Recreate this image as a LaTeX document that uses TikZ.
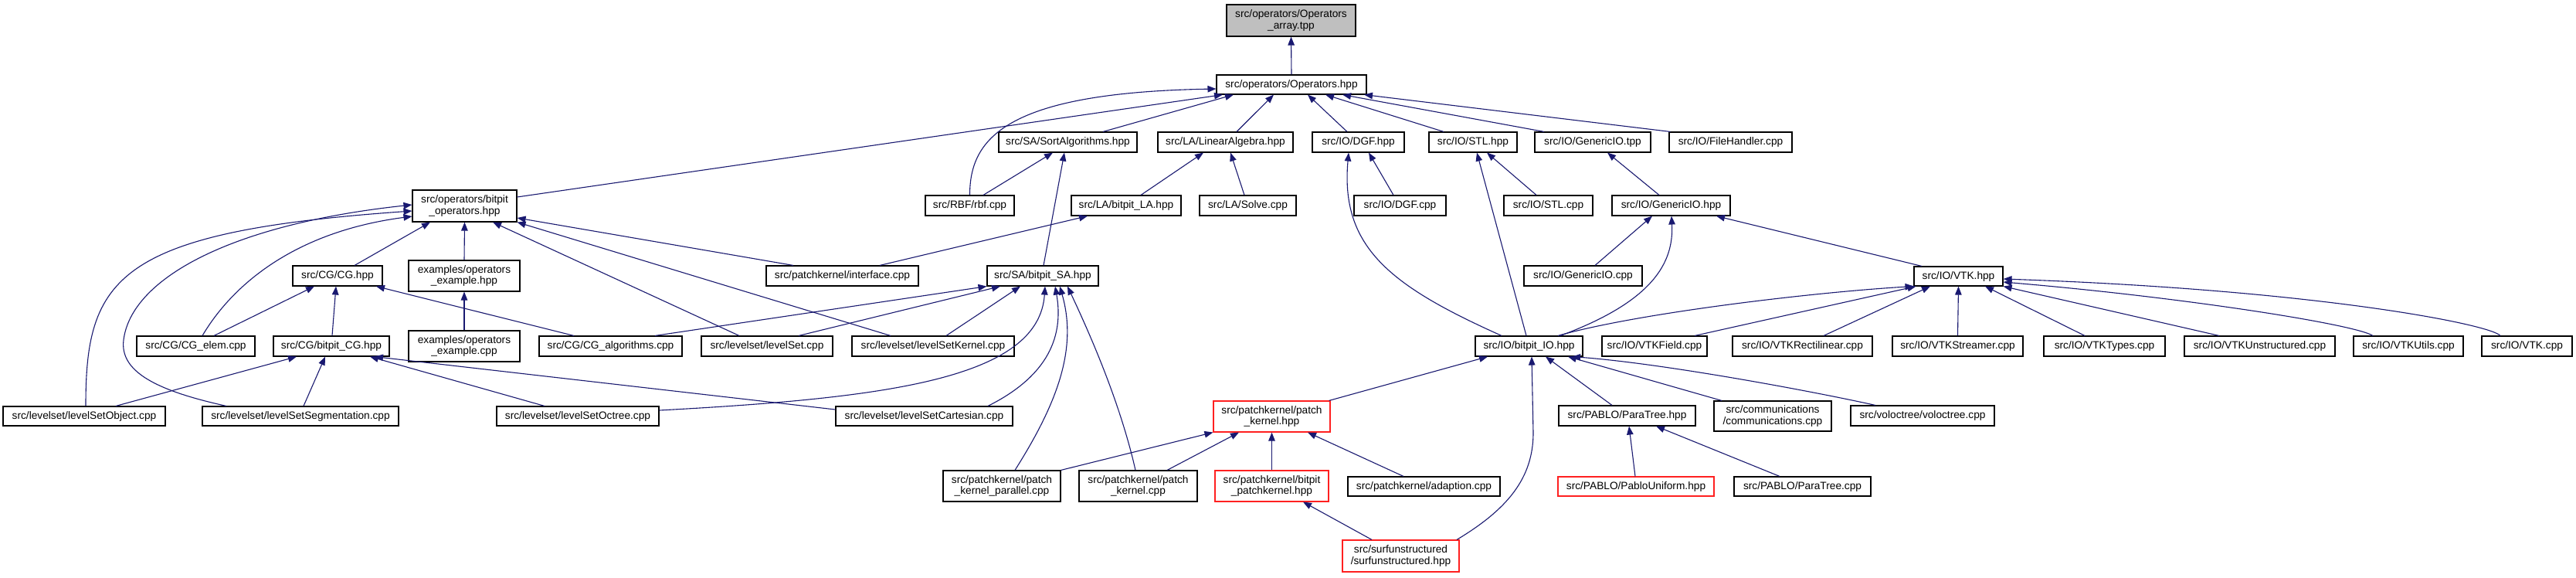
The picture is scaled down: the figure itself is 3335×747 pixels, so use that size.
\documentclass[tikz,border=0pt]{standalone}
\usepackage{fontspec}
\setmainfont{Liberation Sans}
\usetikzlibrary{arrows.meta,shadows}
\definecolor{edgeblue}{HTML}{191970}
\definecolor{nodegray}{HTML}{BFBFBF}
\definecolor{redline}{HTML}{FF2020}
\begin{document}
\begin{tikzpicture}[x=1pt,y=-1pt,
  box/.style={draw=black, line width=1.1pt, fill=white, inner sep=0pt, align=center,
    font=\fontsize{13.7}{14.6}\selectfont,
    drop shadow={shadow xshift=1.3pt,shadow yshift=-1.3pt,fill=black!55,opacity=1}},
  redbox/.style={draw=redline, line width=1.1pt, fill=white, inner sep=0pt, align=center,
    font=\fontsize{13.7}{14.6}\selectfont},
  edge/.style={draw=edgeblue, line width=1.1pt, -{Triangle[length=11pt,width=8.5pt]}},
]
\fill[white] (0,0) rectangle (3335,747);
\useasboundingbox (0,0) rectangle (3335,747);

% row 0-1
\node[box, fill=nodegray, minimum width=167pt, minimum height=41pt] (arr) at (1671.5,26.5) {src/operators/Operators\\\_array.tpp};
\node[box, minimum width=194pt, minimum height=25pt] (ops) at (1672,109.5) {src/operators/Operators.hpp};
% row 2
\node[box, minimum width=179pt, minimum height=26pt] (sort) at (1382.5,184) {src/SA/SortAlgorithms.hpp};
\node[box, minimum width=175pt, minimum height=26pt] (linalg) at (1586.5,184) {src/LA/LinearAlgebra.hpp};
\node[box, minimum width=119pt, minimum height=26pt] (dgfh) at (1758.5,184) {src/IO/DGF.hpp};
\node[box, minimum width=114pt, minimum height=26pt] (stlh) at (1907,184) {src/IO/STL.hpp};
\node[box, minimum width=150pt, minimum height=26pt] (gentpp) at (2062,184) {src/IO/GenericIO.tpp};
\node[box, minimum width=159pt, minimum height=26pt] (fileh) at (2240.5,184) {src/IO/FileHandler.cpp};
% row 3
\node[box, minimum width=135pt, minimum height=41pt] (bops) at (601.5,266.5) {src/operators/bitpit\\\_operators.hpp};
\node[box, minimum width=115pt, minimum height=26pt] (rbf) at (1255.5,266) {src/RBF/rbf.cpp};
\node[box, minimum width=142pt, minimum height=26pt] (bla) at (1458,266) {src/LA/bitpit\_LA.hpp};
\node[box, minimum width=125pt, minimum height=26pt] (solve) at (1615.5,266) {src/LA/Solve.cpp};
\node[box, minimum width=119pt, minimum height=26pt] (dgfc) at (1812.5,266) {src/IO/DGF.cpp};
\node[box, minimum width=115pt, minimum height=26pt] (stlc) at (2004.5,266) {src/IO/STL.cpp};
\node[box, minimum width=153pt, minimum height=26pt] (genhpp) at (2163.5,266) {src/IO/GenericIO.hpp};
% row 4
\node[box, minimum width=116pt, minimum height=26pt] (cgh) at (437,357) {src/CG/CG.hpp};
\node[box, minimum width=144pt, minimum height=40pt] (opex) at (601,357) {examples/operators\\\_example.hpp};
\node[box, minimum width=197pt, minimum height=26pt] (iface) at (1090.5,357) {src/patchkernel/interface.cpp};
\node[box, minimum width=144pt, minimum height=26pt] (bsa) at (1350,357) {src/SA/bitpit\_SA.hpp};
\node[box, minimum width=153pt, minimum height=26pt] (gencpp) at (2049.5,357) {src/IO/GenericIO.cpp};
\node[box, minimum width=115pt, minimum height=25pt] (vtkh) at (2535.5,357.5) {src/IO/VTK.hpp};
% row 5
\node[box, minimum width=153pt, minimum height=26pt] (cgelem) at (253.5,448) {src/CG/CG\_elem.cpp};
\node[box, minimum width=150pt, minimum height=26pt] (bcg) at (429,448) {src/CG/bitpit\_CG.hpp};
\node[box, minimum width=144pt, minimum height=40pt] (opexc) at (601,448) {examples/operators\\\_example.cpp};
\node[box, minimum width=185pt, minimum height=26pt] (cgalg) at (790.5,448) {src/CG/CG\_algorithms.cpp};
\node[box, minimum width=170pt, minimum height=26pt] (lset) at (993,448) {src/levelset/levelSet.cpp};
\node[box, minimum width=210pt, minimum height=26pt] (lskern) at (1208,448) {src/levelset/levelSetKernel.cpp};
\node[box, minimum width=139pt, minimum height=26pt] (bio) at (1979.5,448) {src/IO/bitpit\_IO.hpp};
\node[box, minimum width=136pt, minimum height=26pt] (vtkfield) at (2142,448) {src/IO/VTKField.cpp};
\node[box, minimum width=181pt, minimum height=26pt] (vtkrect) at (2333.5,448) {src/IO/VTKRectilinear.cpp};
\node[box, minimum width=169pt, minimum height=26pt] (vtkstream) at (2534.5,448) {src/IO/VTKStreamer.cpp};
\node[box, minimum width=157pt, minimum height=26pt] (vtktypes) at (2724.5,448) {src/IO/VTKTypes.cpp};
\node[box, minimum width=195pt, minimum height=26pt] (vtkunst) at (2925.5,448) {src/IO/VTKUnstructured.cpp};
\node[box, minimum width=142pt, minimum height=26pt] (vtkutils) at (3118,448) {src/IO/VTKUtils.cpp};
\node[box, minimum width=117pt, minimum height=26pt] (vtkcpp) at (3271.5,448) {src/IO/VTK.cpp};
% row 6
\node[box, minimum width=210pt, minimum height=25pt] (lsobj) at (109,538.5) {src/levelset/levelSetObject.cpp};
\node[box, minimum width=254pt, minimum height=25pt] (lsseg) at (389,538.5) {src/levelset/levelSetSegmentation.cpp};
\node[box, minimum width=210pt, minimum height=25pt] (lsoct) at (748,538.5) {src/levelset/levelSetOctree.cpp};
\node[box, minimum width=229pt, minimum height=25pt] (lscart) at (1196.5,538.5) {src/levelset/levelSetCartesian.cpp};
\node[redbox, minimum width=151pt, minimum height=40pt] (pkh) at (1646.5,539) {src/patchkernel/patch\\\_kernel.hpp};
\node[box, minimum width=177pt, minimum height=26pt] (paratreeh) at (2106.5,538) {src/PABLO/ParaTree.hpp};
\node[box, minimum width=152pt, minimum height=39pt] (comm) at (2295,538.5) {src/communications\\/communications.cpp};
\node[box, minimum width=186pt, minimum height=26pt] (voloc) at (2489,538) {src/voloctree/voloctree.cpp};
% row 7
\node[box, minimum width=152pt, minimum height=40pt] (pkpar) at (1297,629) {src/patchkernel/patch\\\_kernel\_parallel.cpp};
\node[box, minimum width=153pt, minimum height=40pt] (pkcpp) at (1473.5,629) {src/patchkernel/patch\\\_kernel.cpp};
\node[redbox, minimum width=147pt, minimum height=40pt] (bpk) at (1646.5,629) {src/patchkernel/bitpit\\\_patchkernel.hpp};
\node[box, minimum width=197pt, minimum height=25pt] (adapt) at (1843.5,629.5) {src/patchkernel/adaption.cpp};
\node[redbox, minimum width=202pt, minimum height=25pt] (pablou) at (2118,629.5) {src/PABLO/PabloUniform.hpp};
\node[box, minimum width=177pt, minimum height=25pt] (paratreec) at (2333.5,629.5) {src/PABLO/ParaTree.cpp};
% row 8
\node[redbox, minimum width=151pt, minimum height=41pt] (surf) at (1813.5,719.5) {src/surfunstructured\\/surfunstructured.hpp};

% edges
\draw[edge] (ops.north) -- (arr.south);
\draw[edge] ([yshift=11.5]bops.east) -- ([xshift=-89]ops.south);
\draw[edge] (rbf.north) .. controls (1255.5,180) and (1300,120) .. ([yshift=-5.5]ops.west);
\draw[edge] ([xshift=45.5]sort.north) -- ([xshift=-75]ops.south);
\draw[edge] ([xshift=14.5]linalg.north) -- ([xshift=-23]ops.south);
\draw[edge] ([xshift=-14.5]dgfh.north) -- ([xshift=21]ops.south);
\draw[edge] ([xshift=-38]stlh.north) -- ([xshift=44]ops.south);
\draw[edge] ([xshift=-63]gentpp.north) -- ([xshift=66]ops.south);
\draw[edge] ([xshift=-78]fileh.north) -- ([xshift=94]ops.south);
\draw[edge] ([xshift=17.5]rbf.north) -- ([xshift=-19.5]sort.south);
\draw[edge] ([xshift=1]bsa.north) -- ([xshift=-4.5]sort.south);
\draw[edge] ([xshift=19]bla.north) -- ([xshift=-28.5]linalg.south);
\draw[edge] ([xshift=-4.5]solve.north) -- ([xshift=6.5]linalg.south);
\draw[edge] ([xshift=-8.5]dgfc.north) -- ([xshift=13.5]dgfh.south);
\draw[edge] ([xshift=-35.5]bio.north) .. controls (1800,370) and (1735,320) .. ([xshift=-12.5]dgfh.south);
\draw[edge] ([xshift=-15.5]stlc.north) -- ([xshift=18]stlh.south);
\draw[edge] ([xshift=-3.5]bio.north) -- ([xshift=5]stlh.south);
\draw[edge] ([xshift=-15.5]genhpp.north) -- ([xshift=19]gentpp.south);
\draw[edge] ([xshift=15.5]gencpp.north) -- ([xshift=-24.5]genhpp.south);
\draw[edge] ([xshift=40.5]bio.north) .. controls (2140,390) and (2167,340) .. ([xshift=0.5]genhpp.south);
\draw[edge] ([xshift=-47.5]vtkh.north) -- ([xshift=58.5]genhpp.south);
\draw[edge] ([xshift=37.5]bio.north) .. controls (2120,405) and (2350,378) .. (vtkh.south west);
\draw[edge] ([xshift=52]vtkfield.north) -- ([xshift=-55]vtkh.south);
\draw[edge] ([xshift=27.5]vtkrect.north) -- ([xshift=-36.5]vtkh.south);
\draw[edge] (vtkstream.north) -- (vtkh.south);
\draw[edge] ([xshift=-25.5]vtktypes.north) -- ([xshift=34.5]vtkh.south);
\draw[edge] ([xshift=-52.5]vtkunst.north) -- (vtkh.south east);
\draw[edge] ([xshift=-46]vtkutils.north) .. controls (3050,420) and (2830,385) .. ([yshift=-7.5]vtkh.east);
\draw[edge] ([xshift=-34.5]vtkcpp.north) .. controls (3225,420) and (3000,375) .. ([yshift=-3.5]vtkh.east);
\draw[edge] ([xshift=-2]pkh.north east) -- ([xshift=-53.5]bio.south);
\draw[edge] ([xshift=72.5]surf.north) .. controls (1950,660) and (1985,620) .. (1985,560) -- ([xshift=3.5]bio.south);
\draw[edge] ([xshift=-19.5]paratreeh.north) -- ([xshift=21.5]bio.south);
\draw[edge] ([xshift=-66]comm.north) -- ([xshift=50.5]bio.south);
\draw[edge] ([xshift=-61]voloc.north) .. controls (2340,505) and (2150,470) .. ([xshift=55.5]bio.south);
\draw[edge] ([xshift=-1]pablou.north) -- ([xshift=2.5]paratreeh.south);
\draw[edge] ([xshift=-29.5]paratreec.north) -- ([xshift=37.5]paratreeh.south);
\draw[edge] (pkpar.north east) -- (pkh.south west);
\draw[edge] ([xshift=37.5]pkcpp.north) -- ([xshift=-42.5]pkh.south);
\draw[edge] (bpk.north) -- (pkh.south);
\draw[edge] ([xshift=-26.5]adapt.north) -- ([xshift=46.5]pkh.south);
\draw[edge] ([xshift=-37.5]surf.north) -- ([xshift=40.5]bpk.south);
\draw[edge] ([xshift=57.5]cgalg.north) -- (bsa.south west);
\draw[edge] ([xshift=41]lset.north) -- ([xshift=-55]bsa.south);
\draw[edge] ([xshift=17]lskern.north) -- ([xshift=-29]bsa.south);
\draw[edge] ([yshift=7.5]lsoct.east) .. controls (1150,515) and (1345,490) .. ([xshift=3]bsa.south);
\draw[edge] ([xshift=82.5]lscart.north) .. controls (1340,495) and (1380,450) .. ([xshift=16]bsa.south);
\draw[edge] ([xshift=17]pkpar.north) .. controls (1370,520) and (1395,450) .. ([xshift=22]bsa.south);
\draw[edge] ([xshift=-3.5]pkcpp.north) .. controls (1450,520) and (1410,430) .. ([xshift=32]bsa.south);
\draw[edge] ([xshift=2]lsobj.north) .. controls (111,360) and (150,300) .. ([yshift=-6.5]bops.west);
\draw[edge] ([xshift=-96]lsseg.north) .. controls (200,505) and (155,480) .. (160,440) .. controls (170,360) and (300,290) .. ([yshift=1.5]bops.west);
\draw[edge] ([xshift=8.5]cgelem.north) .. controls (300,370) and (380,300) .. ([yshift=-13.5]bops.west);
\draw[edge] ([xshift=22]cgh.north) -- ([xshift=-44.5]bops.south);
\draw[edge] (opex.north) -- (bops.south);
\draw[edge] ([xshift=-36]lset.north) -- ([xshift=36.5]bops.south);
\draw[edge] ([xshift=-55]lskern.north) -- (bops.south east);
\draw[edge] ([xshift=-63.5]iface.north) -- ([yshift=-15.5]bops.east);
\draw[edge] ([xshift=23.5]cgelem.north) -- ([xshift=-30]cgh.south);
\draw[edge] ([xshift=1]bcg.north) -- ([xshift=-2]cgh.south);
\draw[edge] ([xshift=-47.5]cgalg.north) -- ([xshift=50]cgh.south);
\draw[edge] (opexc.north) -- (opex.south);
\draw[edge] ([xshift=41]lsobj.north) -- ([xshift=-45]bcg.south);
\draw[edge] ([xshift=4]lsseg.north) -- ([xshift=-8]bcg.south);
\draw[edge] ([xshift=-43]lsoct.north) -- ([xshift=50]bcg.south);
\draw[edge] ([yshift=8.5]lscart.west) -- ([xshift=56]bcg.south);
\draw[edge] ([xshift=48.5]iface.north) -- ([xshift=-50]bla.south);
\end{tikzpicture}
\end{document}
